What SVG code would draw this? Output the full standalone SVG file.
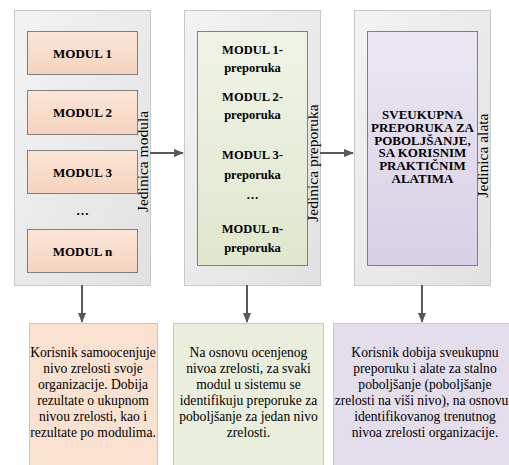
<svg xmlns="http://www.w3.org/2000/svg" width="509" height="465" viewBox="0 0 509 465">
<defs>
<linearGradient id="gCont" x1="0" y1="0" x2="1" y2="1"><stop offset="0" stop-color="#f3f3f3"/><stop offset="1" stop-color="#e1e1e1"/></linearGradient>
<linearGradient id="gPeach" x1="0" y1="0" x2="0" y2="1"><stop offset="0" stop-color="#fbe6d8"/><stop offset="1" stop-color="#f5d3bd"/></linearGradient>
<linearGradient id="gGreen" x1="0" y1="0" x2="0" y2="1"><stop offset="0" stop-color="#f0f4e7"/><stop offset="1" stop-color="#dfe7cd"/></linearGradient>
<linearGradient id="gPurple" x1="0" y1="0" x2="0" y2="1"><stop offset="0" stop-color="#ebe7f2"/><stop offset="1" stop-color="#d8d0e6"/></linearGradient>
<marker id="ah" markerWidth="10" markerHeight="8" refX="9" refY="4" orient="auto" markerUnits="userSpaceOnUse"><path d="M0,0 L10,4 L0,8 Z" fill="#595959"/></marker>
</defs>
<style>
text{font-family:'Liberation Serif','Times New Roman','DejaVu Serif',serif;fill:#000;text-anchor:middle}
.cont{fill:url(#gCont);stroke:#c9c9c9;stroke-width:1}
.mod{fill:url(#gPeach);stroke:#7f7f7f;stroke-width:1}
.inG{fill:url(#gGreen);stroke:#7f7f7f;stroke-width:1}
.inP{fill:url(#gPurple);stroke:#7f7f7f;stroke-width:1}
.bt{font-weight:bold}
.vt{font-size:15.5px}
.nt{font-size:13.6px}
.bP{fill:#fbe1d0;stroke:#c8c8c8}
.bG{fill:#e9efdc;stroke:#c8c8c8}
.bL{fill:#e3ddec;stroke:#c8c8c8}
.ar{stroke:#595959;stroke-width:2;fill:none;marker-end:url(#ah)}
</style>

<g id="unit-modula">
<rect class="cont" x="14.5" y="10.5" width="136" height="275"/>
<text class="vt" transform="translate(148,161.5) rotate(-90)">Jedinica modula</text>
</g>
<g id="modul-1"><rect class="mod" x="27.5" y="31.5" width="110" height="43"/><text class="bt" font-size="13" x="82.5" y="57.5">MODUL 1</text></g>
<g id="modul-2"><rect class="mod" x="27.5" y="90.5" width="110" height="44"/><text class="bt" font-size="13" x="82.5" y="117">MODUL 2</text></g>
<g id="modul-3"><rect class="mod" x="27.5" y="150.5" width="110" height="43"/><text class="bt" font-size="13" x="82.5" y="176.5">MODUL 3</text></g>
<g id="dots"><text class="bt" font-size="13" x="82.5" y="215">…</text></g>
<g id="modul-n"><rect class="mod" x="27.5" y="229.5" width="110" height="43"/><text class="bt" font-size="13" x="82.5" y="255.5">MODUL n</text></g>

<g id="unit-preporuka">
<rect class="cont" x="184.5" y="10.5" width="136" height="275"/>
<rect class="inG" x="197.5" y="31.5" width="110" height="234"/>
<text class="bt" font-size="12.5" x="252.5"><tspan x="252.5" y="54">MODUL 1-</tspan><tspan x="252.5" y="72">preporuka</tspan><tspan x="252.5" y="101">MODUL 2-</tspan><tspan x="252.5" y="119">preporuka</tspan><tspan x="252.5" y="159">MODUL 3-</tspan><tspan x="252.5" y="179">preporuka</tspan><tspan x="252.5" y="199">…</tspan><tspan x="252.5" y="233">MODUL n-</tspan><tspan x="252.5" y="252">preporuka</tspan></text>
<text class="vt" transform="translate(318,163) rotate(-90)">Jedinica preporuka</text>
</g>

<g id="unit-alata">
<rect class="cont" x="354.5" y="10.5" width="136" height="275"/>
<rect class="inP" x="367.5" y="31.5" width="110" height="234"/>
<text class="bt" font-size="13" x="422.5"><tspan x="422.5" y="119">SVEUKUPNA</tspan><tspan x="422.5" y="131.8">PREPORUKA ZA</tspan><tspan x="422.5" y="144.6">POBOLJŠANJE,</tspan><tspan x="422.5" y="157.4">SA KORISNIM</tspan><tspan x="422.5" y="170.2">PRAKTIČNIM</tspan><tspan x="422.5" y="183">ALATIMA</tspan></text>
<text class="vt" transform="translate(488,155.5) rotate(-90)">Jedinica alata</text>
</g>

<g id="opis-1">
<rect class="bP" x="29.5" y="323.5" width="128" height="145"/>
<text class="nt" x="93"><tspan x="93" y="357">Korisnik samoocenjuje</tspan><tspan x="93" y="373">nivo zrelosti svoje</tspan><tspan x="93" y="389">organizacije. Dobija</tspan><tspan x="93" y="405">rezultate o ukupnom</tspan><tspan x="93" y="421">nivou zrelosti, kao i</tspan><tspan x="93" y="437">rezultate po modulima.</tspan></text>
</g>
<g id="opis-2">
<rect class="bG" x="173.5" y="323.5" width="150" height="145"/>
<text class="nt" x="248.5"><tspan x="248.5" y="357">Na osnovu ocenjenog</tspan><tspan x="248.5" y="373">nivoa zrelosti, za svaki</tspan><tspan x="248.5" y="389">modul u sistemu se</tspan><tspan x="248.5" y="405">identifikuju preporuke za</tspan><tspan x="248.5" y="421">poboljšanje za jedan nivo</tspan><tspan x="248.5" y="437">zrelosti.</tspan></text>
</g>
<g id="opis-3">
<rect class="bL" x="333.5" y="323.5" width="186" height="145"/>
<text class="nt" x="425"><tspan x="425" y="357">Korisnik dobija sveukupnu</tspan><tspan x="425" y="373">preporuku i alate za stalno</tspan><tspan x="425" y="389">poboljšanje (poboljšanje</tspan><tspan x="421.5" y="405">zrelosti na viši nivo), na osnovu</tspan><tspan x="425" y="421">identifikovanog trenutnog</tspan><tspan x="425" y="437">nivoa zrelosti organizacije.</tspan></text>
</g>

<g id="connectors">
<line class="ar" x1="150" y1="153" x2="183" y2="153"/>
<line class="ar" x1="320" y1="153" x2="353" y2="153"/>
<line class="ar" x1="82" y1="285" x2="82" y2="322"/>
<line class="ar" x1="247" y1="285" x2="247" y2="322"/>
<line class="ar" x1="422" y1="285" x2="422" y2="322"/>
</g>
</svg>
